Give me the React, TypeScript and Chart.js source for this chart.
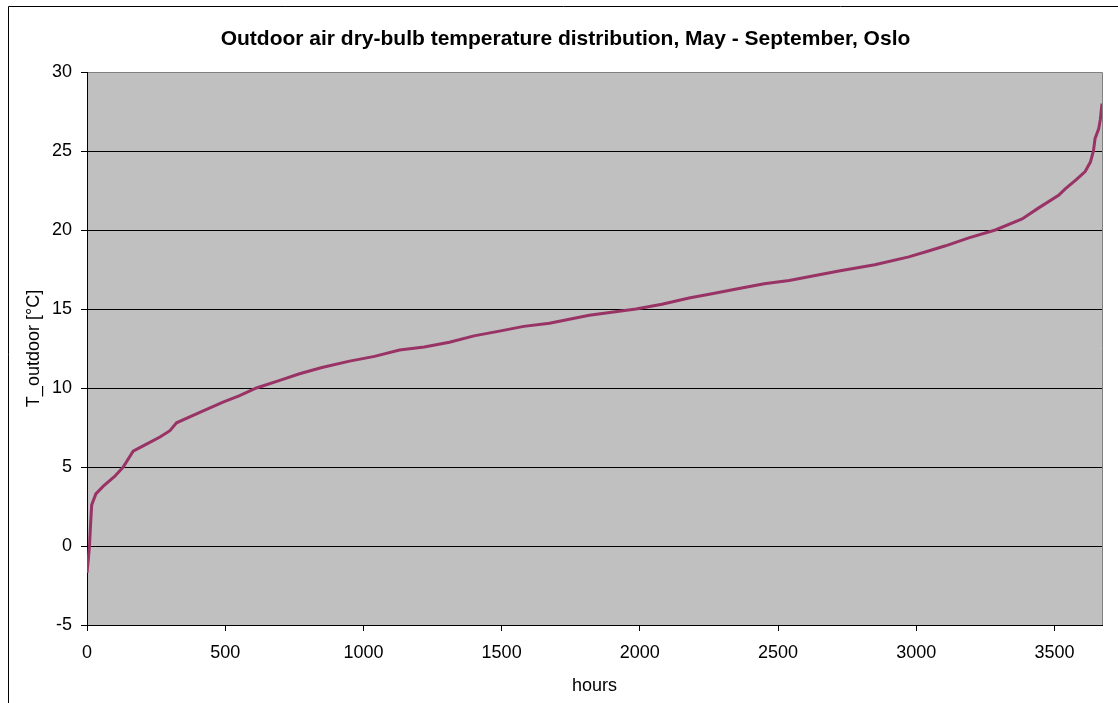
import React, { useEffect, useRef } from "react";
import { Chart, registerables } from "chart.js";

Chart.register(...registerables);

// Duration curve: hours (sorted) vs outdoor temperature
const hours = [
  0, 5, 9, 13, 17, 32, 60, 100, 131, 167, 210, 264, 300, 324, 400, 492, 550, 613,
  700, 769, 850, 950, 1040, 1131, 1220, 1311, 1400, 1492, 1580, 1673, 1817, 1986,
  2080, 2178, 2270, 2359, 2450, 2540, 2630, 2720, 2850, 2973, 3050, 3106, 3190,
  3286, 3383, 3443, 3515, 3539, 3580, 3611, 3630, 3641, 3647, 3660, 3666, 3672,
];
const temps = [
  -1.7, -0.8, 0.0, 1.4, 2.6, 3.3, 3.8, 4.4, 5.0, 6.0, 6.4, 6.9, 7.3, 7.8, 8.4, 9.1, 9.5, 10.0,
  10.5, 10.9, 11.3, 11.7, 12.0, 12.4, 12.6, 12.9, 13.3, 13.6, 13.9, 14.1, 14.6, 15.0,
  15.3, 15.7, 16.0, 16.3, 16.6, 16.8, 17.1, 17.4, 17.8, 18.3, 18.7, 19.0, 19.5,
  20.0, 20.7, 21.4, 22.2, 22.6, 23.2, 23.7, 24.3, 25.0, 25.8, 26.4, 27.0, 28.0,
];

const titleText = "Outdoor air dry-bulb temperature distribution, May - September, Oslo";
const xTitle = "hours";
const yTitle = "T_outdoor [°C]";
const xMin = 0;
const xMax = 3672;
const xTickValues = [0, 500, 1000, 1500, 2000, 2500, 3000, 3500];
const yMin = -5;
const yMax = 30;
const yTickValues = [-5, 0, 5, 10, 15, 20, 25, 30];

const FONT = "'Liberation Sans', Arial, Helvetica, sans-serif";

const framePlugin = {
  id: "frameDecor",
  beforeDraw(chart: any) {
    const { ctx, chartArea: a } = chart;
    ctx.save();
    ctx.fillStyle = "#c0c0c0";
    ctx.fillRect(a.left, a.top, a.right - a.left, a.bottom - a.top);
    ctx.strokeStyle = "#000";
    ctx.lineWidth = 1;
    ctx.beginPath();
    ctx.moveTo(8.5, chart.height);
    ctx.lineTo(8.5, 6.5);
    ctx.lineTo(chart.width, 6.5);
    ctx.stroke();
    ctx.restore();
  },
  beforeDatasetsDraw(chart: any) {
    const { ctx, chartArea: a } = chart;
    ctx.save();
    ctx.strokeStyle = "#808080";
    ctx.lineWidth = 1;
    ctx.beginPath();
    const top = Math.round(a.top) + 0.5;
    const right = Math.round(a.right) + 0.5;
    ctx.moveTo(Math.round(a.left) + 1, top);
    ctx.lineTo(right, top);
    ctx.lineTo(right, Math.round(a.bottom));
    ctx.stroke();
    ctx.restore();
  },
};

export default function App() {
  const ref = useRef<HTMLCanvasElement | null>(null);

  useEffect(() => {
    document.body.style.margin = "0";
    if (!ref.current) return;
    const points = hours.map((h, i) => ({ x: h, y: temps[i] }));
    const chart = new Chart(ref.current, {
      type: "line",
      data: {
        datasets: [
          {
            data: points,
            borderColor: "#993366",
            borderWidth: 3,
            pointRadius: 0,
            tension: 0,
            fill: false,
          },
        ],
      },
      options: {
        responsive: false,
        animation: false,
        layout: { padding: { left: 29, right: 16, top: 0, bottom: 0 } },
        plugins: {
          legend: { display: false },
          tooltip: { enabled: false },
          title: {
            display: true,
            text: titleText,
            color: "#000",
            font: { family: FONT, size: 21, weight: "bold", lineHeight: "25px" },
            padding: { top: 27, bottom: 20 },
          },
        },
        scales: {
          x: {
            type: "linear",
            min: xMin,
            max: xMax,
            afterBuildTicks(scale: any) {
              scale.ticks = xTickValues.map((v) => ({ value: v }));
            },
            afterFit(scale: any) {
              scale.height = 78;
            },
            ticks: {
              maxRotation: 0,
              autoSkip: false,
              padding: 11,
              color: "#000",
              font: { family: FONT, size: 18 },
              callback: (v: any) => String(v),
            },
            grid: {
              drawOnChartArea: false,
              drawTicks: true,
              tickLength: 6,
              color: "#000",
              tickColor: "#000",
            },
            border: { display: true, color: "#000", width: 1 },
            title: {
              display: true,
              text: xTitle,
              color: "#000",
              font: { family: FONT, size: 18 },
              padding: { top: 0, bottom: 6 },
            },
          },
          y: {
            type: "linear",
            min: yMin,
            max: yMax,
            afterBuildTicks(scale: any) {
              scale.ticks = yTickValues.map((v) => ({ value: v }));
            },
            afterFit(scale: any) {
              scale.width = 58;
            },
            ticks: {
              padding: 9,
              autoSkip: false,
              color: "#000",
              font: { family: FONT, size: 18 },
              callback: (v: any) => String(v),
            },
            grid: {
              drawOnChartArea: true,
              drawTicks: true,
              tickLength: 6,
              color: (c: any) => (c.tick && c.tick.value === yMax ? "#808080" : "#000"),
              tickColor: "#000",
            },
            border: { display: true, color: "#000", width: 1 },
            title: {
              display: true,
              text: yTitle,
              color: "#000",
              font: { family: FONT, size: 18 },
              padding: { top: -6, bottom: 0 },
            },
          },
        },
      },
      plugins: [framePlugin],
    } as any);
    return () => chart.destroy();
  }, []);

  return (
    <div style={{ width: 1118, height: 703 }}>
      <canvas ref={ref} width={1118} height={703} style={{ display: "block" }} />
    </div>
  );
}
